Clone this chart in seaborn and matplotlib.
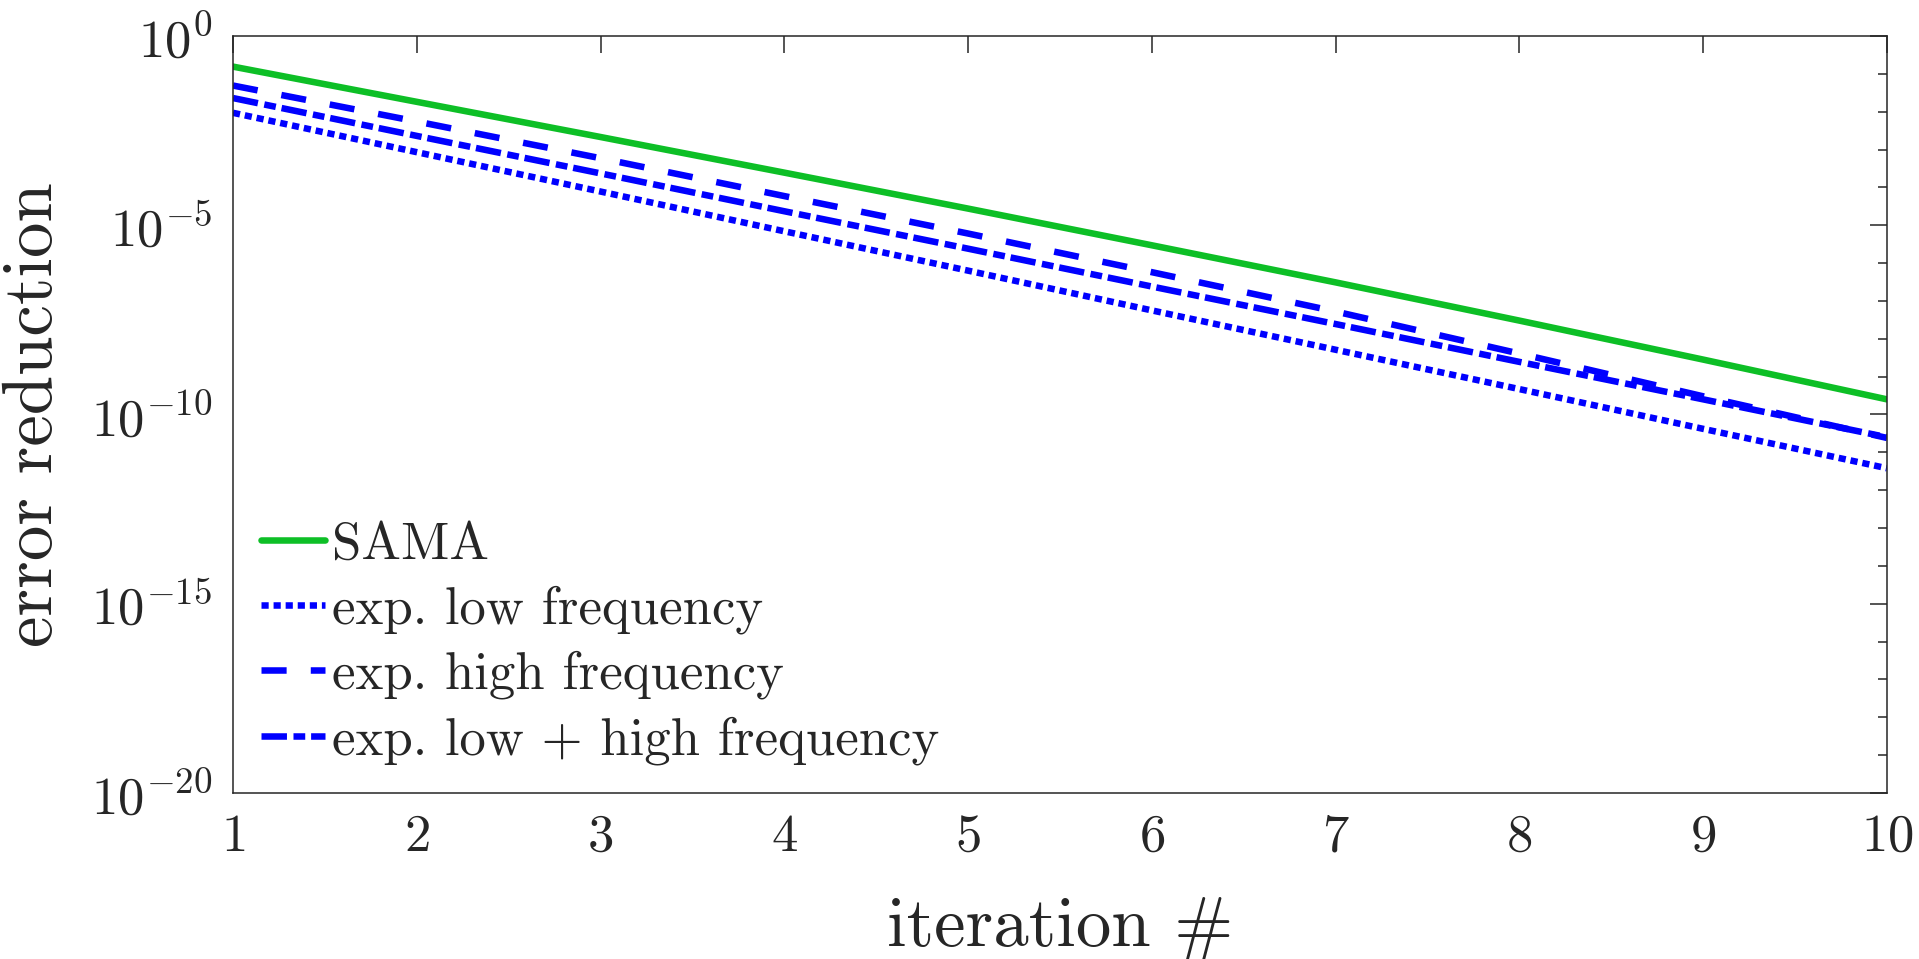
import numpy as np
import pandas as pd
import matplotlib
matplotlib.use("Agg")
import matplotlib.pyplot as plt
import matplotlib.ticker as mticker
import seaborn as sns

# values (error reduction per iteration)
iterations = [1, 2, 3, 4, 5, 6, 7, 8, 9, 10]
sama = [1.55e-1, 1.82e-2, 2.14e-3, 2.45e-4, 2.75e-5, 2.95e-6, 3.09e-7, 3.02e-8, 2.82e-9, 2.51e-10]
exp_low = [9.33e-3, 8.51e-4, 7.76e-5, 6.92e-6, 6.31e-7, 5.62e-8, 5.13e-9, 4.68e-10, 4.17e-11, 3.80e-12]
exp_high = [4.90e-2, 5.50e-3, 5.89e-4, 5.89e-5, 6.03e-6, 5.75e-7, 5.25e-8, 4.07e-9, 3.02e-10, 2.40e-11]
exp_low_high = [2.29e-2, 2.29e-3, 2.34e-4, 2.34e-5, 2.40e-6, 2.40e-7, 2.45e-8, 2.45e-9, 2.51e-10, 2.51e-11]

labels = ["SAMA", "exp. low frequency", "exp. high frequency", "exp. low + high frequency"]

sns.set_style("white")
plt.rcParams['font.family'] = 'serif'
plt.rcParams['font.serif'] = ['cmr10']
plt.rcParams['mathtext.fontset'] = 'cm'
plt.rcParams['axes.formatter.use_mathtext'] = True
plt.rcParams['axes.unicode_minus'] = False

fig = plt.figure(figsize=(19.19, 9.59), dpi=100)
ax = fig.add_axes([0.1214, 0.1731, 0.8619, 0.7894])

green = (0.05, 0.75, 0.15)
blue = (0.0, 0.0, 1.0)
lw = 4.7

sns.lineplot(x=iterations, y=sama, ax=ax, color=green, lw=lw, label=labels[0])
sns.lineplot(x=iterations, y=exp_low, ax=ax, color=blue, lw=lw, label=labels[1],
             linestyle=(0, (1.1, 0.75)))
sns.lineplot(x=iterations, y=exp_high, ax=ax, color=blue, lw=lw, label=labels[2],
             linestyle=(0, (3.85, 3.7)))
sns.lineplot(x=iterations, y=exp_low_high, ax=ax, color=blue, lw=lw, label=labels[3],
             linestyle=(0, (3.9, 1.0, 1.8, 0.9)))

ax.set_yscale('log')
ax.set_xlim(1, 10)
ax.set_ylim(1e-20, 1e0)
ax.set_xticks(iterations)
ax.set_yticks([1e0, 1e-5, 1e-10, 1e-15, 1e-20])
ax.set_yticks([10.0 ** -k for k in range(1, 20) if k % 5 != 0], minor=True)
ax.yaxis.set_minor_formatter(mticker.NullFormatter())

axis_col = (0.15, 0.15, 0.15)
for s in ax.spines.values():
    s.set_color(axis_col)
    s.set_linewidth(1.1)
ax.tick_params(which='both', direction='in', top=True, right=True, colors=axis_col,
               labelcolor=axis_col, width=1.1)
ax.tick_params(which='major', length=12, labelsize=38, pad=15)
ax.tick_params(which='minor', length=6.5)
ax.tick_params(axis='x', which='minor', bottom=False, top=False)

ax.set_xlabel("iteration #", fontsize=51, color=axis_col)
ax.set_ylabel("error reduction", fontsize=51, color=axis_col)
ax.xaxis.set_label_coords(0.5, -0.136)
ax.yaxis.set_label_coords(-0.101, 0.5)

ax.legend(loc='lower left', bbox_to_anchor=(0.017, 0.037), frameon=False, fontsize=38,
          handlelength=1.22, handletextpad=0.12, labelspacing=0.32, borderpad=0,
          borderaxespad=0)

fig.savefig("out.png", dpi=100)
